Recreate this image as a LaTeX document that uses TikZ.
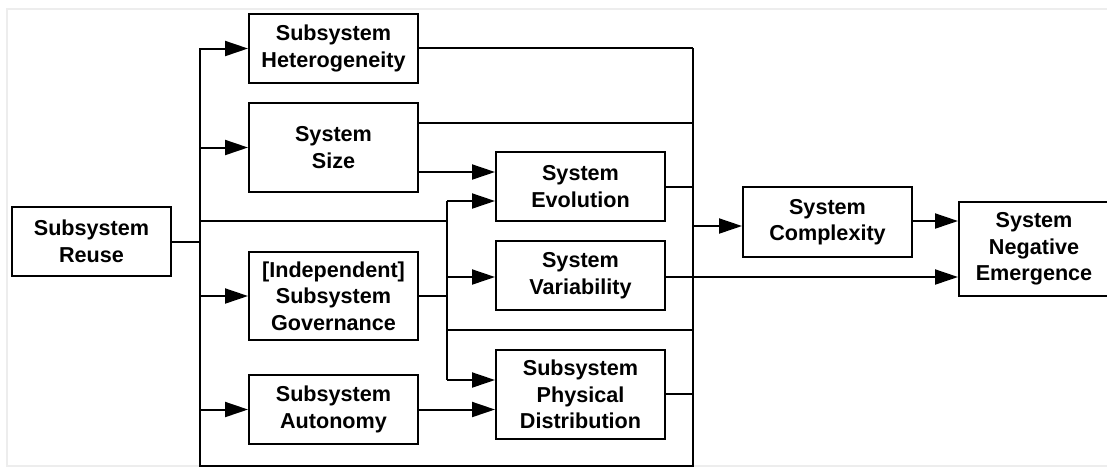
\documentclass[tikz,border=0pt]{standalone}
\usepackage{fontspec}
\setmainfont{Liberation Sans}
\usetikzlibrary{arrows.meta}
\begin{document}
\begin{tikzpicture}[x=0.5pt,y=-0.5pt,
  box/.style={draw, line width=1pt, align=center, inner sep=0pt,
    font=\fontsize{10.8}{13.3}\selectfont\bfseries, minimum width=84.5pt, minimum height=34.5pt},
  ln/.style={line width=1pt},
  arr/.style={ln, -{Triangle[length=11.5pt,width=7.5pt]}},
  frame/.style={draw=black!7, line width=1pt}]
\useasboundingbox (0,0) rectangle (1107,468);
\draw[frame] (1120,9) -- (7,9) -- (7,466) -- (1120,466);

% nodes
\node[box, minimum width=79.5pt] (reuse) at (91.5,241.5) {Subsystem\\Reuse};
\node[box] (het) at (333.5,48.5) {Subsystem\\Heterogeneity};
\node[box, minimum height=44.5pt] (size) at (333.5,147.5) {System\\Size};
\node[box, minimum height=44pt] (gov) at (333.5,296) {[Independent]\\Subsystem\\Governance};
\node[box] (aut) at (333.5,409.5) {Subsystem\\Autonomy};
\node[box] (evo) at (580.5,186.5) {System\\Evolution};
\node[box] (var) at (580.5,275.5) {System\\Variability};
\node[box, minimum height=44.5pt] (phys) at (580.5,394.5) {Subsystem\\Physical\\Distribution};
\node[box, minimum height=35pt] (comp) at (827.5,222) {System\\Complexity};
\node[box, minimum width=75pt, minimum height=47pt] (neg) at (1034,249) {System\\Negative\\Emergence};

% bus coordinates
\coordinate (bL) at (200,0);
\coordinate (bM) at (447,0);
\coordinate (bR) at (693,0);
\coordinate (y48) at (0,48);
\coordinate (y123) at (0,123);
\coordinate (y172) at (0,172);
\coordinate (y187) at (0,187);
\coordinate (y201) at (0,201);
\coordinate (y221) at (0,221);
\coordinate (y226) at (0,226);
\coordinate (y277) at (0,277);
\coordinate (y296) at (0,296);
\coordinate (y330) at (0,330);
\coordinate (y380) at (0,380);
\coordinate (y394) at (0,394);
\coordinate (y409) at (0,409);
\coordinate (y466) at (0,465.5);

% left bus
\draw[ln] (reuse.east) -- (reuse.east -| bL);
\draw[ln] (bL |- y48) -- (bL |- y466) -- (bR |- y466) -- (bR |- y48);
\draw[arr] (bL |- het.west) -- (het.west);
\draw[arr] (bL |- size.west) -- (size.west);
\draw[arr] (bL |- gov.west) -- (gov.west);
\draw[arr] (bL |- aut.west) -- (aut.west);

% middle bus
\draw[ln] (bL |- y221) -- (bM |- y221);
\draw[ln] (bM |- y201) -- (bM |- y380);
\draw[arr] (bM |- y201) -- (evo.west |- y201);
\draw[arr] (size.east |- y172) -- (evo.west |- y172);
\draw[ln] (gov.east) -- (bM |- gov.east);
\draw[arr] (bM |- y277) -- (var.west |- y277);
\draw[ln] (bM |- y330) -- (bR |- y330);
\draw[arr] (bM |- y380) -- (phys.west |- y380);
\draw[arr] (aut.east) -- (phys.west |- aut.east);

% right bus
\draw[ln] (het.east |- y48) -- (bR |- y48);
\draw[ln] (size.east |- y123) -- (bR |- y123);
\draw[ln] (evo.east |- y187) -- (bR |- y187);
\draw[ln] (phys.east |- y394) -- (bR |- y394);
\draw[arr] (bR |- y226) -- (comp.west |- y226);
\draw[arr] (comp.east |- y221) -- (neg.west |- y221);
\draw[arr] (var.east |- y277) -- (neg.west |- y277);
\end{tikzpicture}
\end{document}
